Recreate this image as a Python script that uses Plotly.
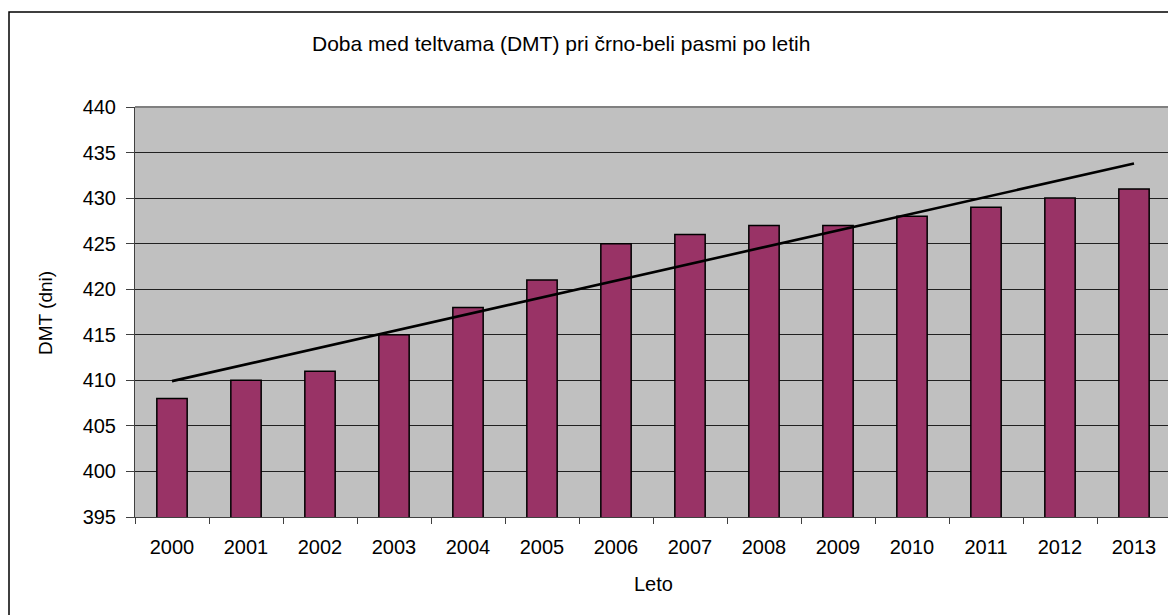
import numpy as np
import plotly.graph_objects as go

years = ["2000", "2001", "2002", "2003", "2004", "2005", "2006",
         "2007", "2008", "2009", "2010", "2011", "2012", "2013"]
dmt = [408, 410, 411, 415, 418, 421, 425, 426, 427, 427, 428, 429, 430, 431]
y_ticks = [395, 400, 405, 410, 415, 420, 425, 430, 435, 440]

title_text = "Doba med teltvama (DMT) pri črno-beli pasmi po letih"
x_title = "Leto"
y_title = "DMT (dni)"

# Linear trendline (least squares, as in the original spreadsheet chart)
idx = np.arange(len(dmt))
slope, intercept = np.polyfit(idx, dmt, 1)
trend = slope * idx + intercept

W, H = 1176, 615
OFF = 8  # page body margin offset
ML, MT = 135 - OFF, 107 - OFF
PW, PH = 1036, 410
MR = W - ML - PW
MB = H - MT - PH

def px_x(p):
    return (p - OFF - ML) / PW

def px_y(p):
    return (MT + PH - (p - OFF)) / PH

FONT = "Liberation Sans, Arial, sans-serif"

fig = go.Figure()
fig.add_trace(go.Bar(
    x=years, y=dmt,
    marker=dict(color="#993366", line=dict(color="black", width=1.5)),
    showlegend=False,
))
fig.add_trace(go.Scatter(
    x=years, y=trend, mode="lines",
    line=dict(color="black", width=2.6),
    showlegend=False,
))

fig.update_layout(
    width=W, height=H,
    margin=dict(l=ML, r=MR, t=MT, b=MB),
    paper_bgcolor="white",
    plot_bgcolor="#C0C0C0",
    bargap=0.59,
    font=dict(family=FONT, size=20, color="black"),
    xaxis=dict(
        type="category",
        tickson="boundaries",
        ticks="outside", ticklen=6, tickcolor="#404040", tickwidth=1,
        showgrid=False,
        showline=True, linecolor="#404040", linewidth=1,
        ticklabelstandoff=12,
        tickfont=dict(size=20, family=FONT),
    ),
    yaxis=dict(
        range=[395, 440],
        tickvals=y_ticks,
        ticks="outside", ticklen=8, tickcolor="#404040", tickwidth=1,
        showgrid=True, gridcolor="#202020", gridwidth=1,
        zeroline=False,
        showline=True, linecolor="#404040", linewidth=1,
        ticklabelstandoff=6,
        tickfont=dict(size=20, family=FONT),
    ),
    shapes=[
        dict(type="line", xref="paper", yref="paper", x0=0, x1=1, y0=1, y1=1,
             line=dict(color="#808080", width=2)),
        dict(type="line", xref="paper", yref="paper", x0=1, x1=1, y0=0, y1=1,
             line=dict(color="#808080", width=2)),
        dict(type="rect", xref="paper", yref="paper",
             x0=px_x(9), x1=1.5, y0=-0.5, y1=px_y(12),
             line=dict(color="black", width=1.5), fillcolor="rgba(0,0,0,0)"),
    ],
    annotations=[
        dict(text=title_text, xref="paper", yref="paper",
             x=px_x(561), y=px_y(43), showarrow=False,
             xanchor="center", yanchor="middle",
             font=dict(size=21, family=FONT)),
        dict(text=x_title, xref="paper", yref="paper",
             x=px_x(653), y=px_y(584), showarrow=False,
             xanchor="center", yanchor="middle",
             font=dict(size=20, family=FONT)),
        dict(text=y_title, xref="paper", yref="paper",
             x=px_x(45), y=px_y(313), showarrow=False, textangle=-90,
             xanchor="center", yanchor="middle",
             font=dict(size=19, family=FONT)),
    ],
)

fig.write_html("out.html")
